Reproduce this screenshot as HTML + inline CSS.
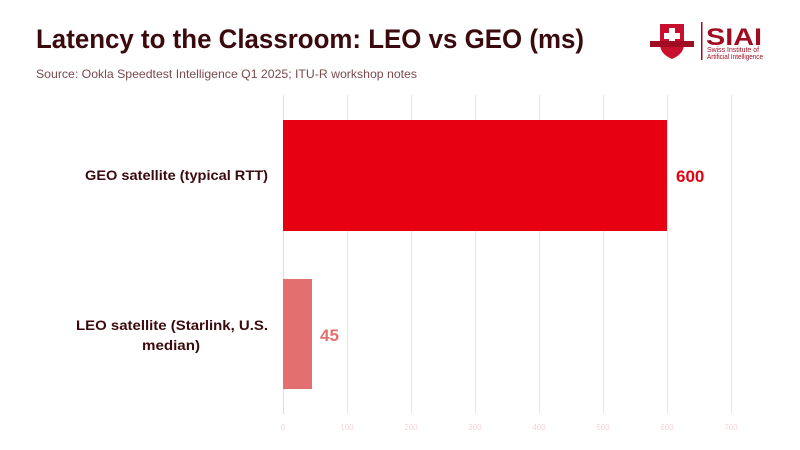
<!DOCTYPE html>
<html><head><meta charset="utf-8"><style>
html,body{margin:0;padding:0;background:#fff;}
svg{display:block;font-family:"Liberation Sans",sans-serif;}
</style></head><body>
<svg width="800" height="450" viewBox="0 0 800 450" xmlns="http://www.w3.org/2000/svg">
<rect width="800" height="450" fill="#fff"/>
<text x="36" y="48" font-size="27" font-weight="bold" fill="#3b0a0e" textLength="548" lengthAdjust="spacingAndGlyphs">Latency to the Classroom: LEO vs GEO (ms)</text>
<text x="36" y="78" font-size="12" fill="#7a4a4e" textLength="381" lengthAdjust="spacingAndGlyphs">Source: Ookla Speedtest Intelligence Q1 2025; ITU-R workshop notes</text>
<g>
<path d="M660 24 L684 24 L684 44 Q684 54 672 59 Q660 54 660 44 Z" fill="#c8102e"/>
<rect x="669" y="28" width="6" height="16" fill="#fff"/>
<rect x="664" y="33" width="16" height="6" fill="#fff"/>
<rect x="650" y="41" width="44" height="6" fill="#a00d22"/>
<rect x="701" y="22" width="1.5" height="38" fill="#a00d22"/>
<text x="706" y="45" font-size="24" font-weight="bold" fill="#a00d22" textLength="56" lengthAdjust="spacingAndGlyphs">SIAI</text>
<text x="707" y="52" font-size="7" fill="#a00d22" textLength="52" lengthAdjust="spacingAndGlyphs">Swiss Institute of</text>
<text x="707" y="59" font-size="7" fill="#a00d22" textLength="56" lengthAdjust="spacingAndGlyphs">Artificial Intelligence</text>
</g>
<g stroke="#f3e0e2" stroke-width="1">
<line x1="347.5" y1="95" x2="347.5" y2="414"/>
<line x1="411.5" y1="95" x2="411.5" y2="414"/>
<line x1="475.5" y1="95" x2="475.5" y2="414"/>
<line x1="539.5" y1="95" x2="539.5" y2="414"/>
<line x1="603.5" y1="95" x2="603.5" y2="414"/>
<line x1="667.5" y1="95" x2="667.5" y2="414"/>
<line x1="731.5" y1="95" x2="731.5" y2="414"/>
</g>
<line x1="283.5" y1="95" x2="283.5" y2="414" stroke="#ddd" stroke-width="1"/>
<rect x="283" y="120" width="384" height="111" fill="#e60012"/>
<rect x="283" y="279" width="29" height="110" fill="#e36f6f"/>
<text x="676" y="182" font-size="17" font-weight="bold" fill="#e60012">600</text>
<text x="320" y="341" font-size="17" font-weight="bold" fill="#e36f6f">45</text>
<g font-size="14" font-weight="bold" fill="#3b0a0e" text-anchor="end">
<text x="268" y="180" textLength="183" lengthAdjust="spacingAndGlyphs">GEO satellite (typical RTT)</text>
<text x="268" y="330" textLength="192" lengthAdjust="spacingAndGlyphs">LEO satellite (Starlink, U.S.</text>
<text x="200" y="350" textLength="58" lengthAdjust="spacingAndGlyphs">median)</text>
</g>
<g font-size="8" fill="#f3d6d9" text-anchor="middle">
<text x="283" y="430">0</text><text x="347" y="430">100</text><text x="411" y="430">200</text>
<text x="475" y="430">300</text><text x="539" y="430">400</text><text x="603" y="430">500</text>
<text x="667" y="430">600</text><text x="731" y="430">700</text>
</g>
</svg>
</body></html>
